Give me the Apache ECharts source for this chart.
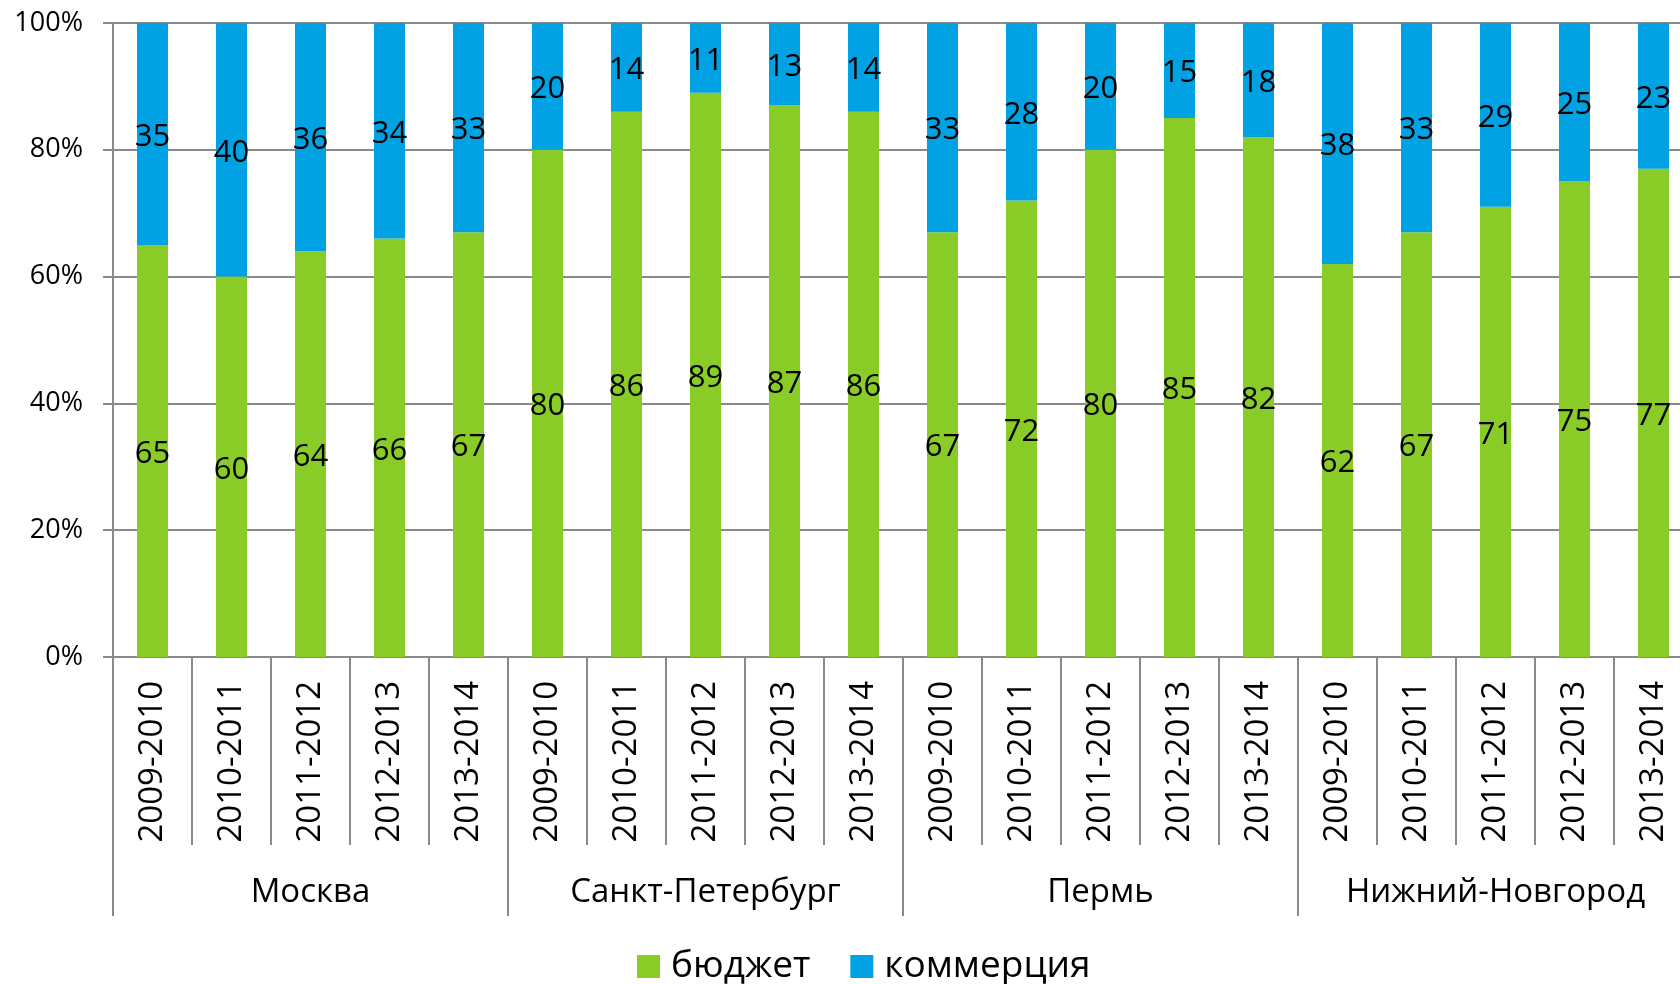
<!DOCTYPE html>
<html>
<head>
<meta charset="utf-8">
<script src="https://cdn.jsdelivr.net/npm/echarts@6/dist/echarts.min.js"></script>
<style>
  html, body { margin: 0; padding: 0; background: #fff; }
  #chart { width: 1680px; height: 984px; }
</style>
</head>
<body>
<div id="chart"></div>
<script>
// данные
var cities = ["Москва", "Санкт-Петербург", "Пермь", "Нижний-Новгород"];
var seasons = ["2009-2010", "2010-2011", "2011-2012", "2012-2013", "2013-2014"];
var budget = [65, 60, 64, 66, 67, 80, 86, 89, 87, 86, 67, 72, 80, 85, 82, 62, 67, 71, 75, 77];
var commerce = [35, 40, 36, 34, 33, 20, 14, 11, 13, 14, 33, 28, 20, 15, 18, 38, 33, 29, 25, 23];
var yTicks = [0, 20, 40, 60, 80, 100];

var years = [];
cities.forEach(function () {
  seasons.forEach(function (s) { years.push(s); });
});

var font = "Open Sans";
var gridColor = "#8a8a8a";

var chart = echarts.init(document.getElementById("chart"));

function barSeries(name, data, color) {
  return {
    name: name,
    type: "bar",
    stack: "total",
    barWidth: 31,
    data: data,
    itemStyle: { color: color },
    label: {
      show: true,
      position: "inside",
      offset: [0, 3],
      color: "#000",
      fontSize: 31,
      fontFamily: font
    }
  };
}

chart.setOption({
  animation: false,
  textStyle: { fontFamily: font },
  grid: {
    left: 113,
    right: -13,
    top: 23,
    bottom: 327,
    outerBoundsMode: "none"
  },
  legend: {
    left: 632,
    top: 943,
    itemWidth: 23,
    itemHeight: 23,
    itemGap: 40,
    icon: "rect",
    textStyle: { fontSize: 37, fontFamily: font, color: "#000", padding: [0, 0, 0, 6] },
    data: ["бюджет", "коммерция"]
  },
  xAxis: [
    {
      type: "category",
      data: years,
      position: "bottom",
      axisLine: { lineStyle: { color: gridColor, width: 2 } },
      axisTick: { show: true, interval: 0, length: 188, lineStyle: { color: gridColor, width: 2 } },
      axisLabel: {
        interval: 0,
        rotate: 90,
        margin: 24,
        fontSize: 33,
        color: "#000",
        fontFamily: font
      }
    },
    {
      type: "category",
      data: cities,
      position: "bottom",
      axisLine: { show: false },
      axisTick: { show: true, interval: 0, length: 259, lineStyle: { color: gridColor, width: 2 } },
      axisLabel: {
        interval: 0,
        margin: 219,
        fontSize: 33,
        color: "#000",
        fontFamily: font
      }
    }
  ],
  yAxis: {
    type: "value",
    min: yTicks[0],
    max: yTicks[yTicks.length - 1],
    interval: 20,
    axisLine: { show: true, lineStyle: { color: gridColor, width: 2 } },
    axisTick: { show: true, length: 10, lineStyle: { color: gridColor, width: 2 } },
    splitLine: { lineStyle: { color: gridColor, width: 2 } },
    axisLabel: {
      formatter: "{value}%",
      margin: 30,
      fontSize: 27,
      color: "#000",
      fontFamily: font
    }
  },
  series: [
    barSeries("бюджет", budget, "#89cc28"),
    barSeries("коммерция", commerce, "#00a2e3")
  ]
});
</script>
</body>
</html>
